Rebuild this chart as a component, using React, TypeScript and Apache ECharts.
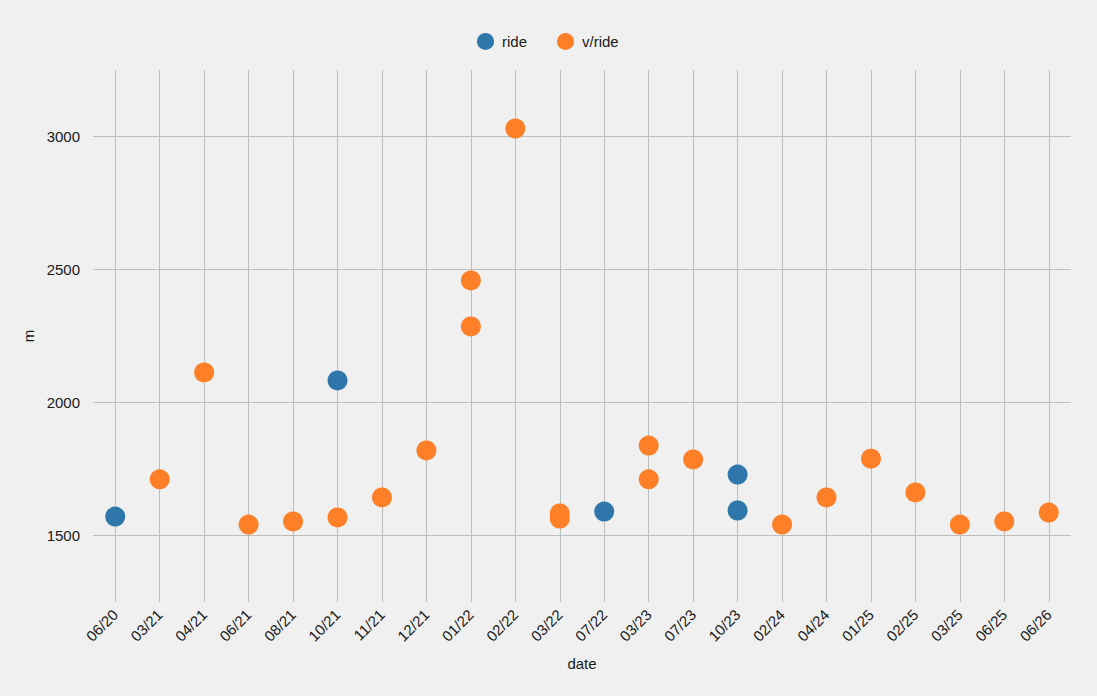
import { useEffect, useRef } from "react"
import * as echarts from "echarts"

const categories = [
  "06/20", "03/21", "04/21", "06/21", "08/21", "10/21", "11/21", "12/21",
  "01/22", "02/22", "03/22", "07/22", "03/23", "07/23", "10/23", "02/24",
  "04/24", "01/25", "02/25", "03/25", "06/25", "06/26",
]

const rideData: [string, number][] = [
  ["06/20", 1571],
  ["10/21", 2083],
  ["07/22", 1590],
  ["10/23", 1729],
  ["10/23", 1594],
]

const vRideData: [string, number][] = [
  ["03/21", 1711],
  ["04/21", 2113],
  ["06/21", 1541],
  ["08/21", 1553],
  ["10/21", 1568],
  ["11/21", 1643],
  ["12/21", 1820],
  ["01/22", 2459],
  ["01/22", 2286],
  ["02/22", 3030],
  ["03/22", 1583],
  ["03/22", 1564],
  ["03/23", 1838],
  ["03/23", 1711],
  ["07/23", 1786],
  ["02/24", 1541],
  ["04/24", 1643],
  ["01/25", 1789],
  ["02/25", 1662],
  ["03/25", 1541],
  ["06/25", 1553],
  ["06/26", 1586],
]

const yTicks = [1500, 2000, 2500, 3000]

const FONT = "'Liberation Sans', Arial, sans-serif"
const GRID_COLOR = "#bdbdbd"
const TEXT = "#1a1a1a"

export default function App() {
  const chartRef = useRef<HTMLDivElement>(null)

  useEffect(() => {
    if (!chartRef.current) return
    const chart = echarts.init(chartRef.current, null, { renderer: "svg" })

    // grid lines sit on the category centres and the labelled y ticks
    const gridLines = [
      ...categories.map((c) => ({ xAxis: c })),
      ...yTicks.map((v) => ({ yAxis: v })),
    ]

    chart.setOption({
      animation: false,
      backgroundColor: "#f0f0f0",
      textStyle: { fontFamily: FONT },
      legend: {
        data: ["ride", "v/ride"],
        top: 28,
        left: 472,
        icon: "circle",
        itemWidth: 17,
        itemHeight: 17,
        itemGap: 30,
        textStyle: { fontSize: 15, color: TEXT, fontFamily: FONT, padding: [0, 0, 0, 3] },
      },
      grid: {
        left: 93,
        right: 26,
        top: 70,
        bottom: 94,
        outerBoundsMode: "none",
      },
      xAxis: {
        type: "category",
        data: categories,
        name: "date",
        nameLocation: "middle",
        nameGap: 54,
        nameTextStyle: { fontSize: 15, color: TEXT, fontFamily: FONT },
        axisLine: { show: false },
        axisTick: { show: false },
        splitLine: { show: false },
        axisLabel: {
          rotate: 45,
          interval: 0,
          margin: 10,
          fontSize: 15,
          color: TEXT,
          fontFamily: FONT,
        },
      },
      yAxis: {
        type: "value",
        min: 1250,
        max: 3250,
        interval: 250,
        name: "m",
        nameLocation: "middle",
        nameGap: 57,
        nameRotate: 90,
        nameTextStyle: { fontSize: 15, color: TEXT, fontFamily: FONT },
        axisLine: { show: false },
        axisTick: { show: false },
        splitLine: { show: false },
        axisLabel: {
          margin: 13,
          fontSize: 15,
          color: TEXT,
          fontFamily: FONT,
          formatter: (v: number) => (yTicks.includes(v) ? String(v) : ""),
        },
      },
      series: [
        {
          name: "grid",
          type: "scatter",
          data: [],
          silent: true,
          markLine: {
            silent: true,
            z: 1,
            symbol: "none",
            label: { show: false },
            lineStyle: { color: GRID_COLOR, type: "solid", width: 1 },
            emphasis: { disabled: true },
            data: gridLines,
          },
        },
        {
          name: "ride",
          type: "scatter",
          z: 3,
          symbolSize: 20,
          itemStyle: { color: "#2f76aa", opacity: 1 },
          data: rideData,
        },
        {
          name: "v/ride",
          type: "scatter",
          z: 3,
          symbolSize: 20,
          itemStyle: { color: "#fd7f28", opacity: 1 },
          data: vRideData,
        },
      ],
    })

    return () => {
      chart.dispose()
    }
  }, [])

  return (
    <div
      ref={chartRef}
      style={{ position: "fixed", left: 0, top: 0, width: 1097, height: 696 }}
    />
  )
}
